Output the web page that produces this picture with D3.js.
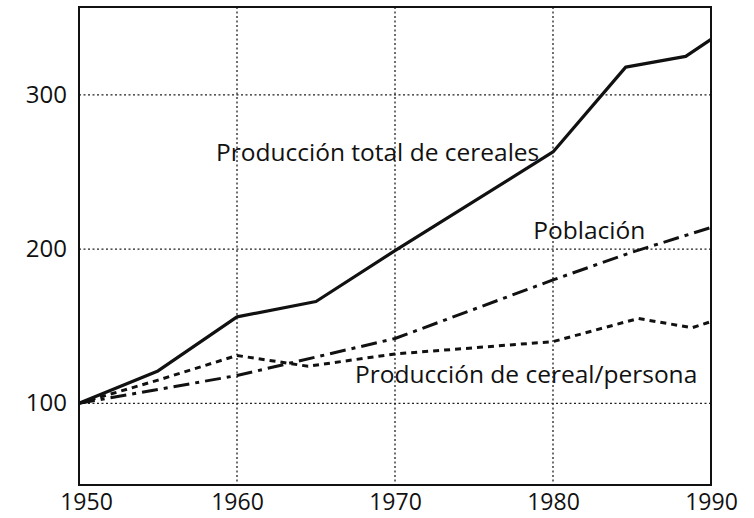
<!DOCTYPE html>
<html>
<head>
<meta charset="utf-8">
<script src="https://cdn.jsdelivr.net/npm/d3@7"></script>
<style>
  html, body { margin: 0; padding: 0; background: #fff; }
  svg { display: block; }
  text { font-family: "Open Sans", sans-serif; fill: #111; }
</style>
</head>
<body>
<svg id="chart" width="754" height="518"></svg>
<script>
// ---- data ----
const totalYears  = [1950, 1955, 1960, 1965, 1970, 1980, 1984.6, 1988.4, 1990];
const totalValues = [100, 121, 156, 166, 199, 263, 318, 325, 336];

const popYears  = [1950, 1955, 1960, 1965, 1970, 1975, 1980, 1985, 1990];
const popValues = [100, 109, 118, 130, 142, 161, 180, 198, 214];

const perYears  = [1950, 1955, 1960, 1964.5, 1970, 1975, 1980, 1985.4, 1988.8, 1990];
const perValues = [100, 115, 131, 124, 132, 136, 140, 155, 149, 153];

const xTicks = [1950, 1960, 1970, 1980, 1990];
const yTicks = [100, 200, 300];
const gridX = [1960, 1970, 1980];
const gridY = [100, 200, 300];

const labels = [
  {text: "Producción total de cereales", year: 1968.9, value: 257},
  {text: "Población", year: 1982.3, value: 206.5},
  {text: "Producción de cereal/persona", year: 1978.3, value: 113}
];

// ---- layout ----
const svg = d3.select("#chart");
const mLeft = 79, mRight = 711, mTop = 7, mBottom = 485;
const x = d3.scaleLinear().domain([1950, 1990]).range([mLeft, mRight]);
const y = d3.scaleLinear().domain([47, 357]).range([mBottom, mTop]);

// grid
svg.append("g").selectAll("line").data(gridX).join("line")
  .attr("x1", d => x(d)).attr("x2", d => x(d))
  .attr("y1", mTop).attr("y2", mBottom)
  .attr("stroke", "#222").attr("stroke-width", 1.3).attr("stroke-dasharray", "2,2.5");
svg.append("g").selectAll("line").data(gridY).join("line")
  .attr("x1", mLeft).attr("x2", mRight)
  .attr("y1", d => y(d)).attr("y2", d => y(d))
  .attr("stroke", "#222").attr("stroke-width", 1.3).attr("stroke-dasharray", "2,2.5");

// frame
svg.append("rect")
  .attr("x", mLeft).attr("y", mTop)
  .attr("width", mRight - mLeft).attr("height", mBottom - mTop)
  .attr("fill", "none").attr("stroke", "#111").attr("stroke-width", 2);

// axes
const yAxis = svg.append("g").attr("transform", `translate(${mLeft},0)`)
  .call(d3.axisLeft(y).tickValues(yTicks).tickSize(0).tickPadding(12).tickFormat(d3.format("d")));
yAxis.select(".domain").remove();
yAxis.selectAll("text").style("font-size", "24px").style("font-family", "'Open Sans', sans-serif").attr("fill", "#111");

const xAxis = svg.append("g").attr("transform", `translate(0,${mBottom})`)
  .call(d3.axisBottom(x).tickValues(xTicks).tickSize(0).tickPadding(9).tickFormat(d3.format("d")));
xAxis.select(".domain").remove();
xAxis.selectAll("text").style("font-size", "23px").style("font-family", "'Open Sans', sans-serif").attr("fill", "#111")
  .attr("dx", d => d === 1950 ? 7 : 0);

// lines
const line = d3.line().x(d => x(d[0])).y(d => y(d[1]));
const zip = (a, b) => a.map((v, i) => [v, b[i]]);

svg.append("path").datum(zip(perYears, perValues))
  .attr("d", line).attr("fill", "none").attr("stroke", "#111")
  .attr("stroke-width", 3).attr("stroke-dasharray", "6,5");

svg.append("path").datum(zip(popYears, popValues))
  .attr("d", line).attr("fill", "none").attr("stroke", "#111")
  .attr("stroke-width", 3).attr("stroke-dasharray", "16,6,4,6");

svg.append("path").datum(zip(totalYears, totalValues))
  .attr("d", line).attr("fill", "none").attr("stroke", "#111")
  .attr("stroke-width", 3.2).attr("stroke-linejoin", "round");

// series labels
svg.append("g").selectAll("text").data(labels).join("text")
  .attr("x", d => x(d.year)).attr("y", d => y(d.value))
  .attr("text-anchor", "middle")
  .style("font-size", "24.5px")
  .text(d => d.text);
</script>
</body>
</html>
